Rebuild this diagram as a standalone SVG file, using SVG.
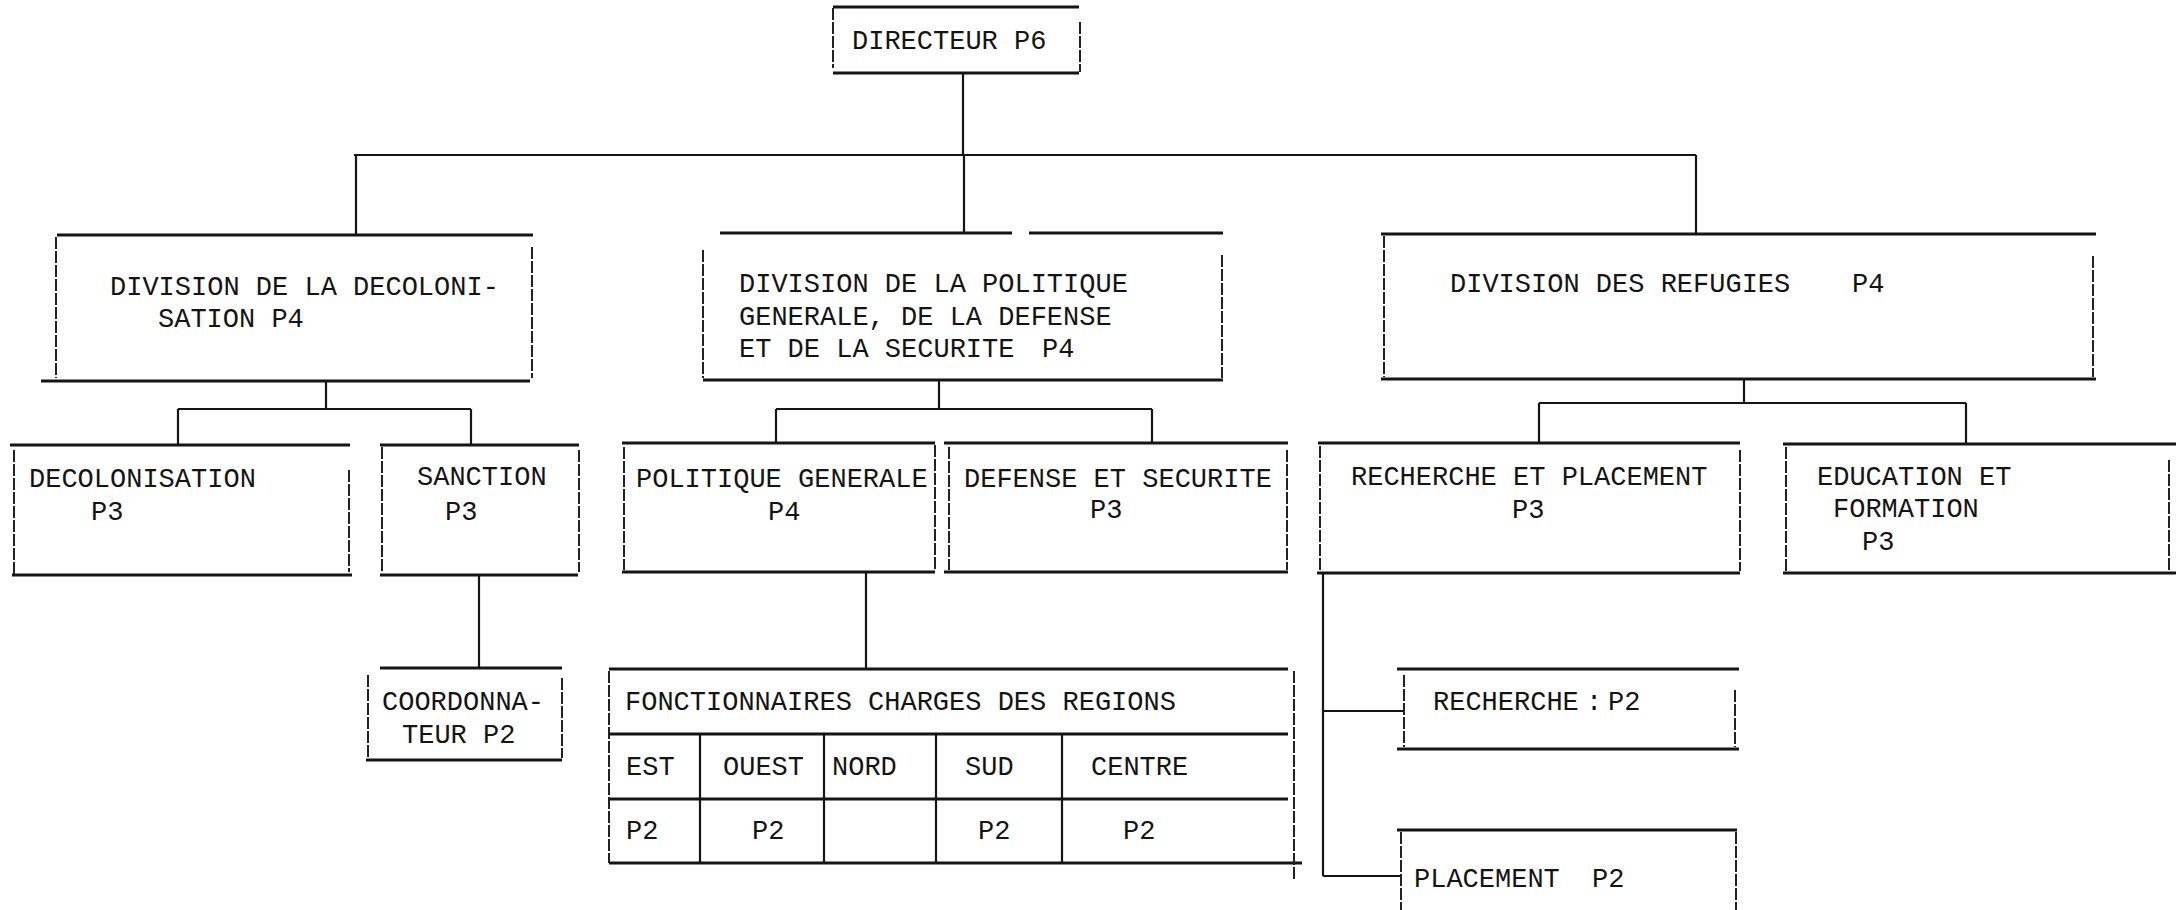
<svg xmlns="http://www.w3.org/2000/svg" width="2176" height="910" viewBox="0 0 2176 910">
<style>
.h{stroke:#151515;stroke-width:3;fill:none;stroke-linecap:butt}
.v{stroke:#222;stroke-width:2;fill:none;stroke-dasharray:12 2}
.c{stroke:#151515;stroke-width:2.2;fill:none}
text{font-family:"Liberation Mono","DejaVu Sans Mono",monospace;font-size:27px;fill:#141414}
</style>
<rect width="2176" height="910" fill="#ffffff"/>
<g id="connectors">
<path class="c" d="M963 73V155M354 155H1696M356 155V235M964 155V233M1696 155V234"/>
<path class="c" d="M326 381V409M178 409H471M178 409V445M471 409V445"/>
<path class="c" d="M479 575V668"/>
<path class="c" d="M939 380V409M776 409H1152M776 409V443M1152 409V443"/>
<path class="c" d="M866 572V669"/>
<path class="c" d="M1744 379V403M1539 403H1966M1539 403V443M1966 403V444"/>
<path class="c" d="M1323 573V876M1323 711H1404M1323 876H1401"/>
</g>
<g id="directeur">
<path class="h" d="M833 7H1079M833 73H1079"/>
<path class="v" d="M833 8V68M1080 22V72"/>
<text x="852" y="49">DIRECTEUR P6</text>
</g>
<g id="div-decolonisation">
<path class="h" d="M57 235H533M41 381H530"/>
<path class="v" d="M56 237V378M532 247V378"/>
<text x="110" y="295">DIVISION DE LA DECOLONI-</text>
<text x="158" y="327">SATION P4</text>
</g>
<g id="div-politique">
<path class="h" d="M720 233H1012M1029 233H1223M703 380H1223"/>
<path class="v" d="M703 250V378M1222 255V378"/>
<text x="739" y="292">DIVISION DE LA POLITIQUE</text>
<text x="739" y="325">GENERALE, DE LA DEFENSE</text>
<text x="739" y="357">ET DE LA SECURITE</text>
<text x="1042" y="357">P4</text>
</g>
<g id="div-refugies">
<path class="h" d="M1381 234H2096M1381 379H2096"/>
<path class="v" d="M1384 236V377M2093 256V377"/>
<text x="1450" y="292">DIVISION DES REFUGIES</text>
<text x="1852" y="292">P4</text>
</g>
<g id="decolonisation">
<path class="h" d="M10 445H350M12 575H352"/>
<path class="v" d="M14 450V575M349 470V572"/>
<text x="29" y="487">DECOLONISATION</text>
<text x="91" y="520">P3</text>
</g>
<g id="sanction">
<path class="h" d="M380 445H579M380 575H578"/>
<path class="v" d="M382 447V572M579 450V572"/>
<text x="417" y="485">SANCTION</text>
<text x="445" y="520">P3</text>
</g>
<g id="coordonnateur">
<path class="h" d="M380 668H562M366 760H562"/>
<path class="v" d="M368 675V758M562 678V758"/>
<text x="382" y="710">COORDONNA-</text>
<text x="402" y="743">TEUR P2</text>
</g>
<g id="politique-generale">
<path class="h" d="M622 443H935M622 572H935"/>
<path class="v" d="M624 447V570M935 445V570"/>
<text x="636" y="487">POLITIQUE GENERALE</text>
<text x="768" y="520">P4</text>
</g>
<g id="defense-securite">
<path class="h" d="M944 443H1288M944 572H1288"/>
<path class="v" d="M949 447V570M1287 450V570"/>
<text x="964" y="487">DEFENSE ET SECURITE</text>
<text x="1090" y="518">P3</text>
</g>
<g id="fonctionnaires">
<path class="h" d="M609 669H1288M609 734H1288M609 799H1288M609 863H1302"/>
<path class="v" d="M609 671V863M1294 671V880"/>
<path class="c" d="M700 734V863M824 734V863M936 734V863M1062 734V863"/>
<text x="625" y="710">FONCTIONNAIRES CHARGES DES REGIONS</text>
<text x="626" y="775">EST</text>
<text x="723" y="775">OUEST</text>
<text x="832" y="775">NORD</text>
<text x="965" y="775">SUD</text>
<text x="1091" y="775">CENTRE</text>
<text x="626" y="839">P2</text>
<text x="752" y="839">P2</text>
<text x="978" y="839">P2</text>
<text x="1123" y="839">P2</text>
</g>
<g id="recherche-placement">
<path class="h" d="M1318 443H1740M1317 573H1740"/>
<path class="v" d="M1320 446V571M1740 450V571"/>
<text x="1351" y="485">RECHERCHE ET PLACEMENT</text>
<text x="1512" y="518">P3</text>
</g>
<g id="education-formation">
<path class="h" d="M1783 444H2176M1783 573H2176"/>
<path class="v" d="M1786 447V571M2169 460V571"/>
<text x="1817" y="485">EDUCATION ET</text>
<text x="1833" y="517">FORMATION</text>
<text x="1862" y="550">P3</text>
</g>
<g id="recherche">
<path class="h" d="M1397 669H1739M1397 749H1739"/>
<path class="v" d="M1404 675V747M1735 690V747"/>
<text x="1433" y="710">RECHERCHE</text>
<text x="1586" y="710">:</text>
<text x="1608" y="710">P2</text>
</g>
<g id="placement">
<path class="h" d="M1397 830H1737"/>
<path class="v" d="M1401 832V910M1736 832V910"/>
<text x="1414" y="887">PLACEMENT</text>
<text x="1592" y="887">P2</text>
</g>
</svg>
